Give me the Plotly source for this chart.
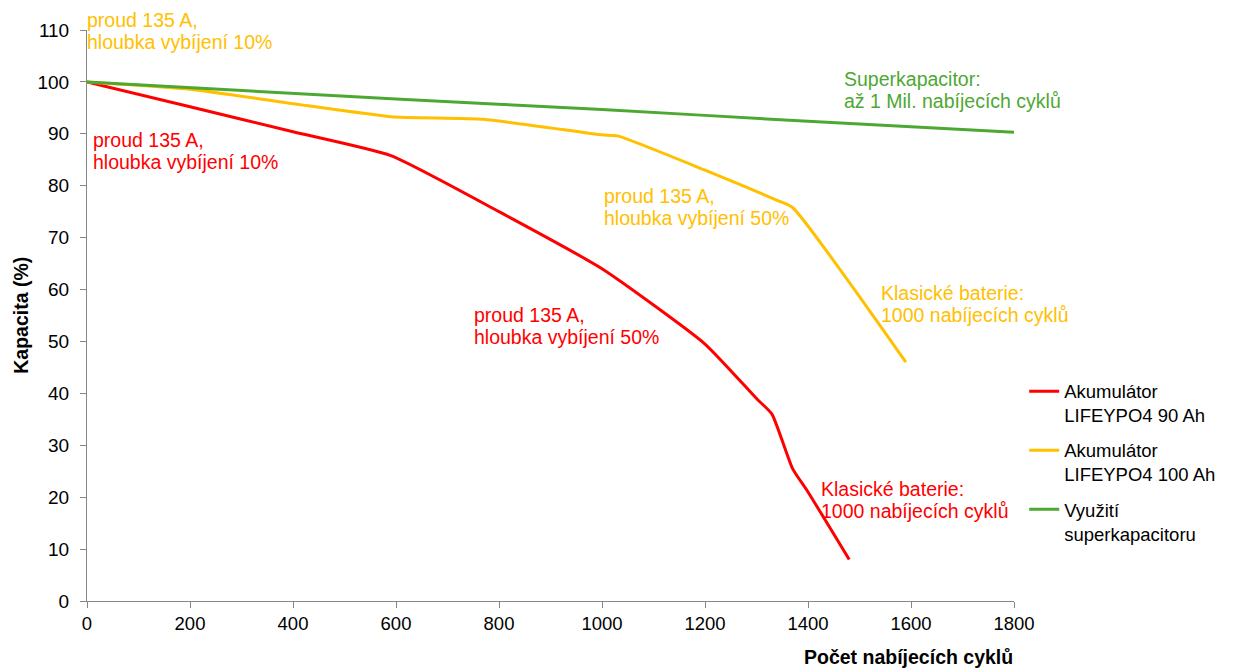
import plotly.graph_objects as go

# Data
red_x = [0, 200, 400, 590, 800, 1000, 1200, 1300, 1330, 1370, 1400, 1480]
red_y = [100, 95.2, 90.4, 85.8, 75, 64, 49.5, 39, 36, 25.5, 21, 8]

yellow_x = [0, 200, 400, 590, 770, 1000, 1030, 1200, 1340, 1370, 1590]
yellow_y = [100, 98.6, 95.8, 93.3, 92.8, 89.8, 89.6, 83, 77.2, 75.8, 46]

green_x = [0, 600, 1000, 1400, 1800]
green_y = [100, 96.7, 94.7, 92.4, 90.3]

names = ["Akumulátor<br>LIFEYPO4 90 Ah", "Akumulátor<br>LIFEYPO4 100 Ah", "Využití<br>superkapacitoru"]
colors = ["#FF0000", "#FFC000", "#4DA832"]

x_ticks = [0, 200, 400, 600, 800, 1000, 1200, 1400, 1600, 1800]
y_ticks = [0, 10, 20, 30, 40, 50, 60, 70, 80, 90, 100, 110]

note_texts = [
    ["proud 135 A,", "hloubka vybíjení 10%"],
    ["proud 135 A,", "hloubka vybíjení 50%"],
    ["Klasické baterie:", "1000 nabíjecích cyklů"],
    ["proud 135 A,", "hloubka vybíjení 50%"],
    ["Klasické baterie:", "1000 nabíjecích cyklů"],
    ["Superkapacitor:", "až 1 Mil. nabíjecích cyklů"],
]
note_x = [8, 1000, 1538, 747, 1421, 1466]
note_y = [91.3, 80.6, 61.8, 57.6, 24.1, 103.1]
note_colors = ["#FF0000", "#FFC000", "#FFC000", "#FF0000", "#FF0000", "#4DA832"]
top_note = ["proud 135 A,", "hloubka vybíjení 10%"]

FONT = "Liberation Sans, Arial, sans-serif"
FS = 18.5
AFS = 19.5
LINE = 22

fig = go.Figure()
for i, (xs, ys, nm, c) in enumerate(zip([red_x, yellow_x, green_x], [red_y, yellow_y, green_y], names, colors)):
    fig.add_trace(go.Scatter(x=xs, y=ys, mode="lines", name=nm, legendgroup=f"g{i}",
                             line=dict(color=c, width=3, shape="spline", smoothing=0.5)))

for lines, ax, ay, c in zip(note_texts, note_x, note_y, note_colors):
    for k, t in enumerate(lines):
        fig.add_annotation(x=ax, y=ay, xref="x", yref="y", text=t, showarrow=False,
                           xanchor="left", yanchor="top", align="left", yshift=-LINE * k,
                           font=dict(family=FONT, size=AFS, color=c))

# top-left yellow note (above the plot area)
for k, t in enumerate(top_note):
    fig.add_annotation(x=-0.002, y=1.04, xref="paper", yref="paper", text=t, showarrow=False,
                       xanchor="left", yanchor="top", align="left", yshift=-LINE * k,
                       font=dict(family=FONT, size=AFS, color="#FFC000"))

fig.add_annotation(x=1.001, y=0, xref="paper", yref="paper", yshift=-43, text="<b>Počet nabíjecích cyklů</b>",
                   showarrow=False, xanchor="right", yanchor="top",
                   font=dict(family=FONT, size=19.5, color="#000000"))
fig.add_annotation(x=-0.072, y=0.5, xref="paper", yref="paper", text="<b>Kapacita (%)</b>",
                   showarrow=False, textangle=-90, xanchor="center", yanchor="middle",
                   font=dict(family=FONT, size=19.5, color="#000000"))

fig.update_layout(
    width=1238, height=660,
    margin=dict(l=79, r=232, t=22, b=67),
    paper_bgcolor="white", plot_bgcolor="white",
    font=dict(family=FONT, size=FS, color="#000000"),
    legend=dict(x=1.011, y=0.4, xanchor="left", yanchor="top", valign="top",
                font=dict(family=FONT, size=FS, color="#000000"), tracegroupgap=8),
    showlegend=True,
)
fig.update_xaxes(range=[0, 1800], tickvals=x_ticks, showgrid=False, zeroline=False,
                 showline=True, linecolor="#868686", linewidth=1,
                 ticks="outside", tickcolor="#868686", ticklen=6,
                 tickfont=dict(family=FONT, size=FS, color="#000000"))
fig.update_yaxes(range=[0, 110], tickvals=y_ticks, showgrid=False, zeroline=False,
                 showline=True, linecolor="#868686", linewidth=1,
                 ticks="outside", tickcolor="#868686", ticklen=6, ticklabelstandoff=7,
                 tickfont=dict(family=FONT, size=19, color="#000000"))

fig.write_html("out.html")
